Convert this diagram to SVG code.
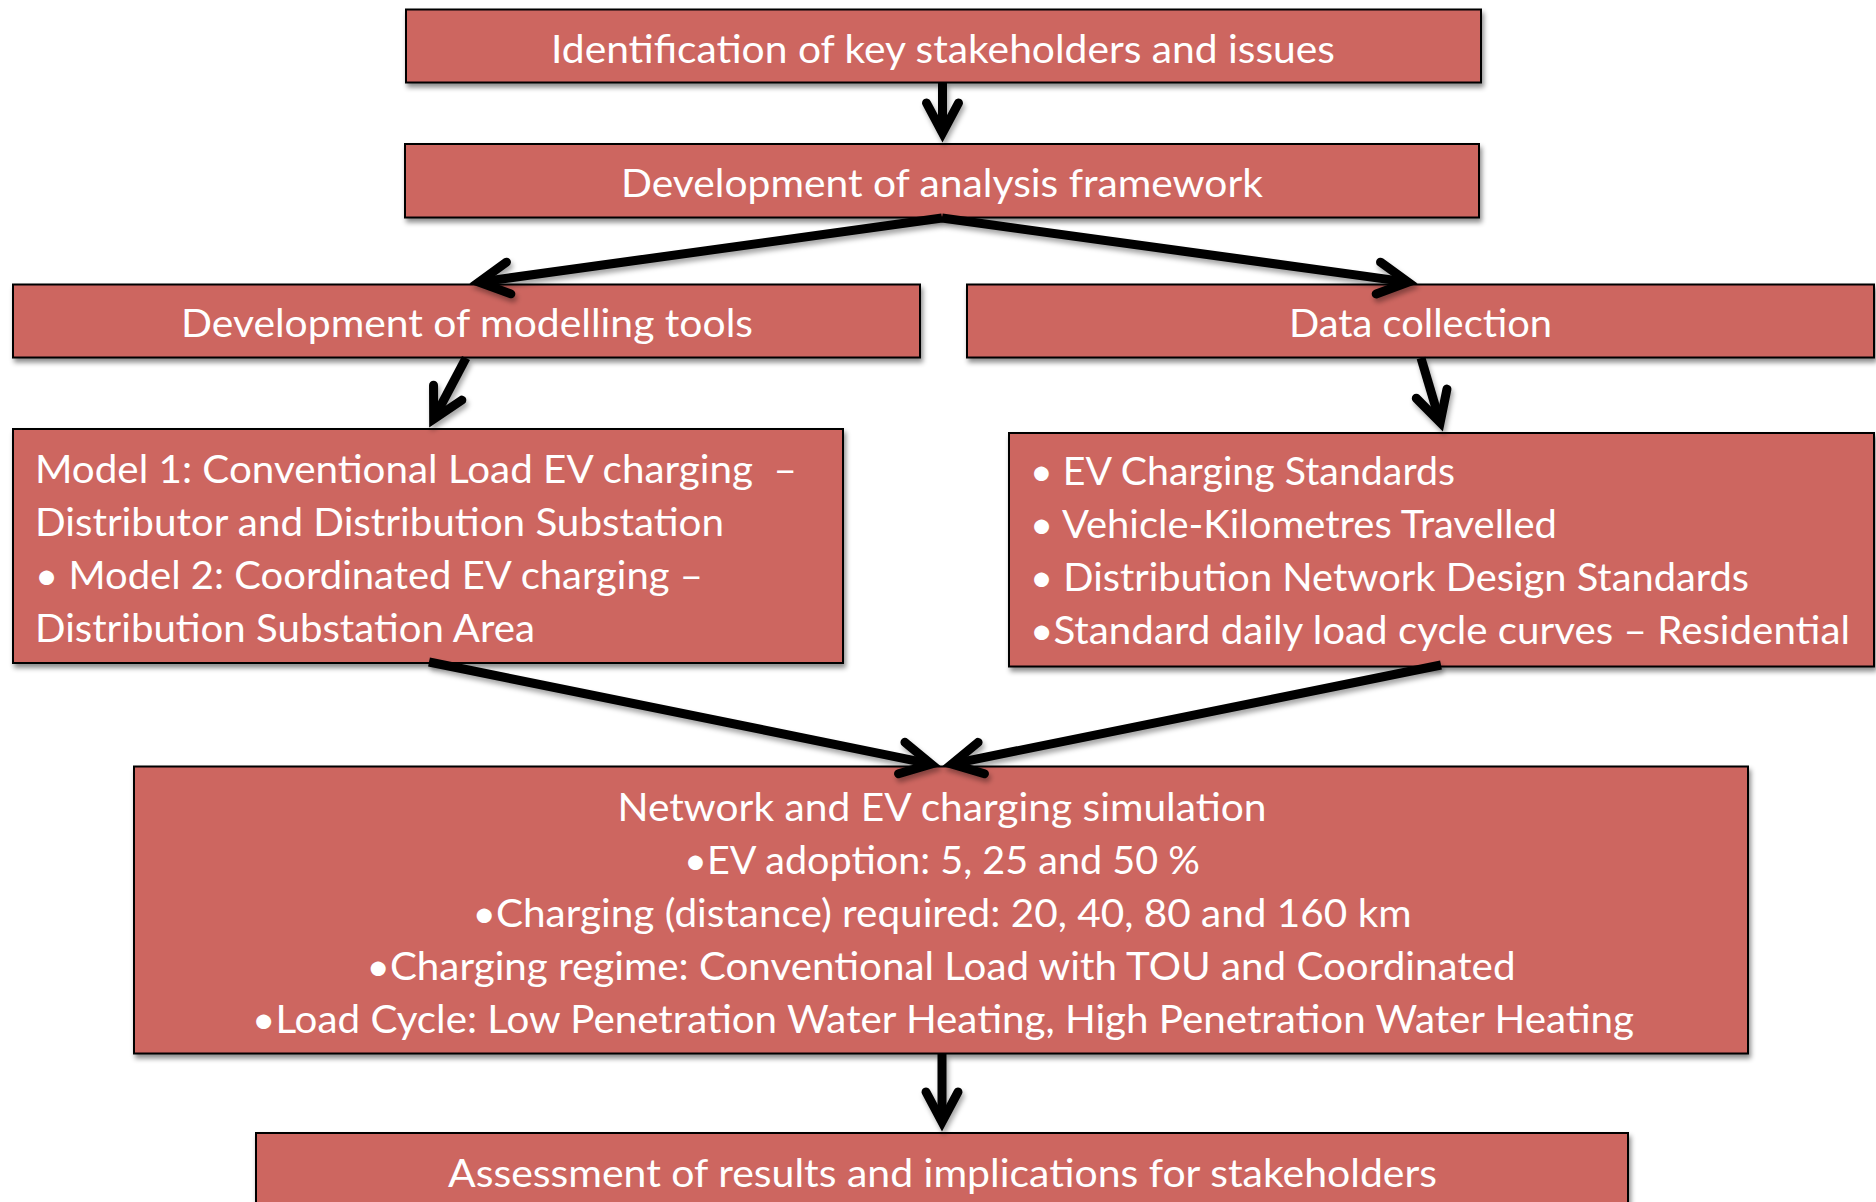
<svg xmlns="http://www.w3.org/2000/svg" width="1876" height="1202" viewBox="0 0 1876 1202">
<style>
.box{fill:#CD6661;stroke:#000;stroke-width:2;filter:url(#sh)}
.t{font-family:Lato,"Liberation Sans",sans-serif;font-size:39px;fill:#fff;white-space:pre}
.c{text-anchor:middle}
.conn{fill:none;stroke:#000;stroke-width:9;filter:url(#sh2)}
</style>
<defs>
<filter id="sh" x="-5%" y="-10%" width="110%" height="130%">
<feDropShadow dx="2" dy="4" stdDeviation="2.5" flood-color="#000" flood-opacity="0.45"/>
</filter>
<filter id="sh2" filterUnits="userSpaceOnUse" x="0" y="0" width="1876" height="1202">
<feDropShadow dx="2" dy="4" stdDeviation="2.5" flood-color="#000" flood-opacity="0.35"/>
</filter>
<marker id="ah" markerUnits="userSpaceOnUse" orient="auto" markerWidth="80" markerHeight="80" refX="0" refY="0" overflow="visible">
<path d="M-28,-16 L2,0 L-28,16" fill="none" stroke="#000" stroke-width="9" stroke-linecap="round" stroke-linejoin="miter"/>
</marker>
</defs>
<rect width="1876" height="1202" fill="#fff"/>
<g id="n1"><rect class="box" x="406" y="9.5" width="1075" height="73"/>
<text class="t c" x="943" y="63" textLength="784" lengthAdjust="spacingAndGlyphs">Identification of key stakeholders and issues</text></g>
<g id="n2"><rect class="box" x="405" y="144" width="1074" height="73.5"/>
<text class="t c" x="942" y="197" textLength="642" lengthAdjust="spacingAndGlyphs">Development of analysis framework</text></g>
<g id="n3"><rect class="box" x="13" y="284.5" width="907" height="73"/>
<text class="t c" x="467" y="337" textLength="572" lengthAdjust="spacingAndGlyphs">Development of modelling tools</text></g>
<g id="n4"><rect class="box" x="967" y="284.5" width="907" height="73"/>
<text class="t c" x="1420.5" y="337" textLength="263" lengthAdjust="spacingAndGlyphs">Data collection</text></g>
<g id="n5"><rect class="box" x="13" y="429" width="830" height="234"/>
<text class="t" x="35" y="483" textLength="762" lengthAdjust="spacingAndGlyphs">Model 1: Conventional Load EV charging  –</text>
<text class="t" x="35" y="536" textLength="689" lengthAdjust="spacingAndGlyphs">Distributor and Distribution Substation</text>
<text class="t" x="35" y="589" textLength="668" lengthAdjust="spacingAndGlyphs">• Model 2: Coordinated EV charging –</text>
<text class="t" x="35" y="642" textLength="500" lengthAdjust="spacingAndGlyphs">Distribution Substation Area</text></g>
<g id="n6"><rect class="box" x="1009" y="433" width="865" height="233.5"/>
<text class="t" x="1030" y="485" textLength="425" lengthAdjust="spacingAndGlyphs">• EV Charging Standards</text>
<text class="t" x="1030" y="538" textLength="527" lengthAdjust="spacingAndGlyphs">• Vehicle-Kilometres Travelled</text>
<text class="t" x="1030" y="591" textLength="719" lengthAdjust="spacingAndGlyphs">• Distribution Network Design Standards</text>
<text class="t" x="1030" y="644" textLength="820" lengthAdjust="spacingAndGlyphs">•Standard daily load cycle curves – Residential</text></g>
<g id="n7"><rect class="box" x="134" y="766.5" width="1614" height="287"/>
<text class="t c" x="942" y="821" textLength="649" lengthAdjust="spacingAndGlyphs">Network and EV charging simulation</text>
<text class="t c" x="942" y="874" textLength="516" lengthAdjust="spacingAndGlyphs">•EV adoption: 5, 25 and 50 %</text>
<text class="t c" x="942" y="927" textLength="939" lengthAdjust="spacingAndGlyphs">•Charging (distance) required: 20, 40, 80 and 160 km</text>
<text class="t c" x="941" y="980" textLength="1149" lengthAdjust="spacingAndGlyphs">•Charging regime: Conventional Load with TOU and Coordinated</text>
<text class="t c" x="943" y="1033" textLength="1382" lengthAdjust="spacingAndGlyphs">•Load Cycle: Low Penetration Water Heating, High Penetration Water Heating</text></g>
<g id="n8"><rect class="box" x="256" y="1133" width="1372" height="90"/>
<text class="t c" x="942.5" y="1187" textLength="989" lengthAdjust="spacingAndGlyphs">Assessment of results and implications for stakeholders</text></g>
<g id="connectors">
<path class="conn" d="M942.5,83 L942.5,131" marker-end="url(#ah)"/>
<path class="conn" d="M942,218 L480.9,281.85" marker-end="url(#ah)"/>
<path class="conn" d="M942,218 L1406.1,281.9" marker-end="url(#ah)"/>
<path class="conn" d="M466,358 L434.6,417.4" marker-end="url(#ah)"/>
<path class="conn" d="M1421,358 L1439.6,420.5" marker-end="url(#ah)"/>
<path class="conn" d="M429,662 L929.2,763.6" marker-end="url(#ah)"/>
<path class="conn" d="M1441,665 L953.8,763.6" marker-end="url(#ah)"/>
<path class="conn" d="M942,1054 L942,1120" marker-end="url(#ah)"/>
</g>
</svg>
